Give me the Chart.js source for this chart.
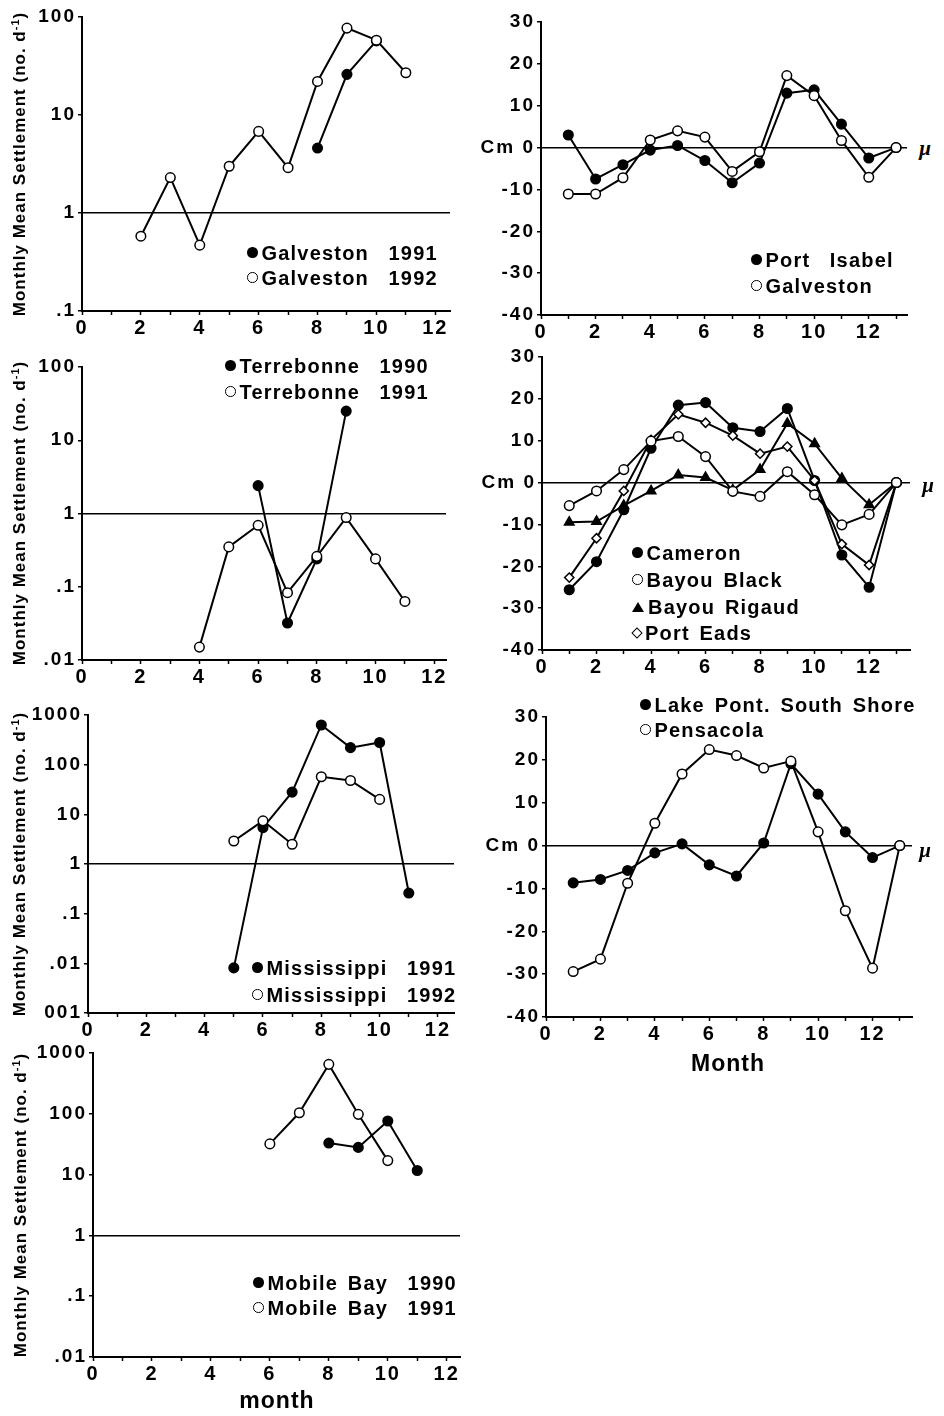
<!DOCTYPE html>
<html><head><meta charset="utf-8">
<script src="https://cdn.jsdelivr.net/npm/chart.js@4.4.1/dist/chart.umd.min.js"></script>
<style>
body{margin:0;background:#fff;width:944px;height:1416px;position:relative;overflow:hidden;font-family:"Liberation Sans",Arial,sans-serif;font-weight:bold;color:#000}
canvas{position:absolute}
.lg{position:absolute;font-size:20px;letter-spacing:1.2px;word-spacing:3px;white-space:pre;line-height:26px;height:26px}
.mk{display:inline-block;vertical-align:middle;margin-right:4px;box-sizing:border-box;position:relative;top:-2px}
.fc{width:10.5px;height:10.5px;border-radius:50%;background:#000}
.oc{width:10.5px;height:10.5px;border-radius:50%;border:1.5px solid #000;background:#fff}
.tri{width:0;height:0;border-left:6px solid transparent;border-right:6px solid transparent;border-bottom:10.5px solid #000}
.dia{width:8px;height:8px;border:1.5px solid #000;transform:rotate(45deg);margin-left:1px}
.yt{position:absolute;transform:translate(-50%,-50%) rotate(-90deg);font-size:17px;white-space:nowrap;letter-spacing:1px}
.yt sup{font-size:11px;vertical-align:6px;line-height:0}
.mu{position:absolute;font-style:italic;font-size:21px;font-family:"Liberation Serif",serif;transform:translate(-50%,-50%)}
.xt{position:absolute;transform:translate(-50%,-50%);font-size:23px;letter-spacing:1px}
</style>
</head><body>
<canvas id="c1"></canvas><canvas id="c2"></canvas><canvas id="c3"></canvas><canvas id="c4"></canvas>
<canvas id="c5"></canvas><canvas id="c6"></canvas><canvas id="c7"></canvas>

<div class="yt" style="left:20px;top:164px">Monthly Mean Settlement (no. d<sup>-1</sup>)</div>
<div class="yt" style="left:20px;top:513px">Monthly Mean Settlement (no. d<sup>-1</sup>)</div>
<div class="yt" style="left:20px;top:864px">Monthly Mean Settlement (no. d<sup>-1</sup>)</div>
<div class="yt" style="left:21px;top:1205px">Monthly Mean Settlement (no. d<sup>-1</sup>)</div>

<div class="lg" style="left:247px;top:240px"><span class="mk fc"></span>Galveston  1991</div>
<div class="lg" style="left:247px;top:265px"><span class="mk oc"></span>Galveston  1992</div>

<div class="lg" style="left:751px;top:247px"><span class="mk fc"></span>Port  Isabel</div>
<div class="lg" style="left:751px;top:273px"><span class="mk oc"></span>Galveston</div>

<div class="lg" style="left:225px;top:353px"><span class="mk fc"></span>Terrebonne  1990</div>
<div class="lg" style="left:225px;top:379px"><span class="mk oc"></span>Terrebonne  1991</div>

<div class="lg" style="left:632px;top:540px"><span class="mk fc"></span>Cameron</div>
<div class="lg" style="left:632px;top:567px"><span class="mk oc"></span>Bayou Black</div>
<div class="lg" style="left:632px;top:594px"><span class="mk tri"></span>Bayou Rigaud</div>
<div class="lg" style="left:632px;top:620px"><span class="mk dia"></span>Port Eads</div>

<div class="lg" style="left:252px;top:955px"><span class="mk fc"></span>Mississippi  1991</div>
<div class="lg" style="left:252px;top:982px"><span class="mk oc"></span>Mississippi  1992</div>

<div class="lg" style="left:640px;top:692px"><span class="mk fc"></span>Lake Pont. South Shore</div>
<div class="lg" style="left:640px;top:717px"><span class="mk oc"></span>Pensacola</div>

<div class="lg" style="left:253px;top:1270px"><span class="mk fc"></span>Mobile Bay  1990</div>
<div class="lg" style="left:253px;top:1295px"><span class="mk oc"></span>Mobile Bay  1991</div>

<div class="mu" style="left:925px;top:148px">μ</div>
<div class="mu" style="left:928px;top:485px">μ</div>
<div class="mu" style="left:925px;top:850px">μ</div>

<div class="xt" style="left:728px;top:1063px">Month</div>
<div class="xt" style="left:277px;top:1400px">month</div>

<script>
// ---------- categories ----------
const months = [1,2,3,4,5,6,7,8,9,10,11,12,13];

// ---------- tick labels ----------
const monthTickValuesLeft = [0,1,2,3,4,5,6,7,8,9,10,11,12];
const monthTickLabelsLeft = ['0','','2','','4','','6','','8','','10','','12'];
const monthTickValuesRight = [0,1,2,3,4,5,6,7,8,9,10,11,12,13];
const monthTickLabelsRight = ['0','','2','','4','','6','','8','','10','','12',''];

const logTickValues1 = [0.1,1,10,100];
const logTickLabels1 = ['.1','1','10','100'];
const logTickValues3 = [0.01,0.1,1,10,100];
const logTickLabels3 = ['.01','.1','1','10','100'];
const logTickValues5 = [0.001,0.01,0.1,1,10,100,1000];
const logTickLabels5 = ['001','.01','.1','1','10','100','1000'];
const logTickValues7 = [0.01,0.1,1,10,100,1000];
const logTickLabels7 = ['.01','.1','1','10','100','1000'];
const cmTickValues = [-40,-30,-20,-10,0,10,20,30];
const cmTickLabels = ['-40','-30','-20','-10','Cm 0','10','20','30'];

// ---------- series (one value per month, null = no data) ----------
const galveston1991 = [null,null,null,null,null,null,null,4.6,26,57,null,null,null];
const galveston1992 = [null,0.58,2.3,0.47,3.0,6.8,2.9,22,77,58,27,null,null];

const portIsabelCm = [3.0,-7.5,-4.1,-0.6,0.5,-3.1,-8.4,-3.7,13.0,13.8,5.6,-2.5,0];
const galvestonCm  = [-11.1,-11.1,-7.2,1.8,4.0,2.5,-5.7,-1.0,17.2,12.4,1.7,-7.1,0];

const terrebonne1990 = [null,null,null,null,null,2.4,0.032,0.24,25,null,null,null,null];
const terrebonne1991 = [null,null,null,0.015,0.35,0.69,0.083,0.26,0.88,0.24,0.063,null,null];

const cameronCm     = [-25.6,-18.9,-6.5,8.2,18.5,19.1,13.1,12.2,17.7,0.5,-17.3,-25.0,0];
const bayouBlackCm  = [-5.5,-2.0,3.1,9.9,11.0,6.2,-2.1,-3.3,2.6,-2.9,-10.1,-7.6,0];
const bayouRigaudCm = [-9.5,-9.3,-5.5,-2.0,1.8,1.2,-1.8,3.1,14.1,9.3,1.0,-5.3,0];
const portEadsCm    = [-22.7,-13.3,-2.0,10.2,16.3,14.3,11.2,6.9,8.6,0.5,-14.7,-19.7,0];

const mississippi1991 = [null,null,null,null,0.0081,5.4,28,630,220,280,0.26,null,null];
const mississippi1992 = [null,null,null,null,2.9,7.4,2.5,57,48,20,null,null,null];

const lakePontCm  = [-8.7,-7.9,-5.8,-1.7,0.4,-4.5,-7.1,0.6,19.1,12.0,3.2,-2.8,0];
const pensacolaCm = [-29.4,-26.5,-8.8,5.2,16.7,22.4,21.0,18.1,19.7,3.2,-15.2,-28.6,0];

const mobileBay1990 = [null,null,null,null,null,null,null,33,28,76,11.7,null,null];
const mobileBay1991 = [null,null,null,null,null,32,104,650,98,17,null,null,null];

// ---------- drawing ----------
const FONT = "'Liberation Sans', Arial, sans-serif";
const spacing = {id:'spacing', beforeDraw(chart){ chart.ctx.letterSpacing = '2px'; }};

function series(label, values, style) {
  const pts = [];
  values.forEach((v,i)=>{ if (v !== null) pts.push({x: months[i], y: v}); });
  const solid = style === 'filled' || style === 'triangle';
  const isEnd = c => c.raw && c.raw.x === 13;
  return {
    label, data: pts, borderColor:'#000', borderWidth:2, tension:0, fill:false,
    pointStyle: c => isEnd(c) ? 'circle' : ({filled:'circle',open:'circle',triangle:'triangle',diamond:'rectRot'})[style],
    pointRadius: c => isEnd(c) ? 4.8 : (style==='triangle' ? 5.5 : style==='diamond' ? 4.6 : 4.8),
    pointBackgroundColor: c => isEnd(c) ? '#fff' : (solid ? '#000' : '#fff'),
    pointBorderColor:'#000', pointBorderWidth:1.5
  };
}

function makeChart(id, cfg) {
  const {L,T,R,B} = cfg;
  const yW = 70, xH = 36, padTop = 16, padRight = 10;
  const cv = document.getElementById(id);
  const w = R - L + yW + padRight, h = B - T + padTop + xH;
  cv.style.left = (L - yW) + 'px'; cv.style.top = (T - padTop) + 'px';
  cv.style.width = w + 'px'; cv.style.height = h + 'px';
  cv.width = w; cv.height = h;
  new Chart(cv, {
    type: 'line',
    data: { datasets: cfg.datasets },
    plugins: [spacing],
    options: {
      responsive:false, animation:false, devicePixelRatio:1,
      layout:{padding:{top:padTop,right:padRight,left:0,bottom:0}},
      plugins:{legend:{display:false}, tooltip:{enabled:false}},
      scales:{
        x:{
          type:'linear', min:0, max:cfg.xMax,
          afterFit: s => { s.height = xH; },
          afterBuildTicks: s => { s.ticks = cfg.xTicks.map(v => ({value:v})); },
          ticks:{autoSkip:false, maxRotation:0, minRotation:0, padding:1, color:'#000',
                 font:{family:FONT, size:20, weight:'bold'}, callback:(v,i) => cfg.xLabels[i]},
          grid:{drawOnChartArea:false, tickLength:4, tickColor:'#000', tickWidth:1.5},
          border:{color:'#000', width:2}
        },
        y:{
          type:cfg.yType, min:cfg.yMin, max:cfg.yMax,
          afterFit: s => { s.width = yW; },
          afterBuildTicks: s => { s.ticks = cfg.yTicks.map(v => ({value:v})); },
          ticks:{autoSkip:false, padding:2, color:'#000',
                 font:{family:FONT, size:19, weight:'bold'}, callback:(v,i) => cfg.yLabels[i]},
          grid:{drawOnChartArea:true, tickLength:4, tickColor:'#000', tickWidth:1.5, lineWidth:1.5,
                color: c => (c.tick && c.tick.value === cfg.refLine) ? '#000' : 'rgba(0,0,0,0)'},
          border:{color:'#000', width:2}
        }
      }
    }
  });
}

const leftX = {xTicks:monthTickValuesLeft, xLabels:monthTickLabelsLeft};
const rightX = {xTicks:monthTickValuesRight, xLabels:monthTickLabelsRight};
const cmY = {yType:'linear', yMin:-40, yMax:30, yTicks:cmTickValues, yLabels:cmTickLabels, refLine:0};

// first dataset in each list is drawn on top
makeChart('c1', Object.assign({L:82,T:17,R:450,B:311,xMax:12.5,yType:'logarithmic',yMin:0.1,yMax:100,
  yTicks:logTickValues1,yLabels:logTickLabels1,refLine:1,
  datasets:[series('Galveston 1992',galveston1992,'open'), series('Galveston 1991',galveston1991,'filled')]}, leftX));

makeChart('c2', Object.assign({L:541,T:22,R:907,B:315,xMax:13.4,
  datasets:[series('Galveston',galvestonCm,'open'), series('Port Isabel',portIsabelCm,'filled')]}, rightX, cmY));

makeChart('c3', Object.assign({L:82,T:367,R:446,B:660,xMax:12.4,yType:'logarithmic',yMin:0.01,yMax:100,
  yTicks:logTickValues3,yLabels:logTickLabels3,refLine:1,
  datasets:[series('Terrebonne 1991',terrebonne1991,'open'), series('Terrebonne 1990',terrebonne1990,'filled')]}, leftX));

makeChart('c4', Object.assign({L:542,T:357,R:910,B:650,xMax:13.5,
  datasets:[series('Bayou Black',bayouBlackCm,'open'), series('Port Eads',portEadsCm,'diamond'),
            series('Bayou Rigaud',bayouRigaudCm,'triangle'), series('Cameron',cameronCm,'filled')]}, rightX, cmY));

makeChart('c5', Object.assign({L:88,T:715,R:454,B:1013,xMax:12.55,yType:'logarithmic',yMin:0.001,yMax:1000,
  yTicks:logTickValues5,yLabels:logTickLabels5,refLine:1,
  datasets:[series('Mississippi 1992',mississippi1992,'open'), series('Mississippi 1991',mississippi1991,'filled')]}, leftX));

makeChart('c6', Object.assign({L:546,T:717,R:912,B:1017,xMax:13.45,
  datasets:[series('Pensacola',pensacolaCm,'open'), series('Lake Pont. South Shore',lakePontCm,'filled')]}, rightX, cmY));

makeChart('c7', Object.assign({L:93,T:1053,R:460,B:1357,xMax:12.45,yType:'logarithmic',yMin:0.01,yMax:1000,
  yTicks:logTickValues7,yLabels:logTickLabels7,refLine:1,
  datasets:[series('Mobile Bay 1991',mobileBay1991,'open'), series('Mobile Bay 1990',mobileBay1990,'filled')]}, leftX));
</script>
</body></html>
